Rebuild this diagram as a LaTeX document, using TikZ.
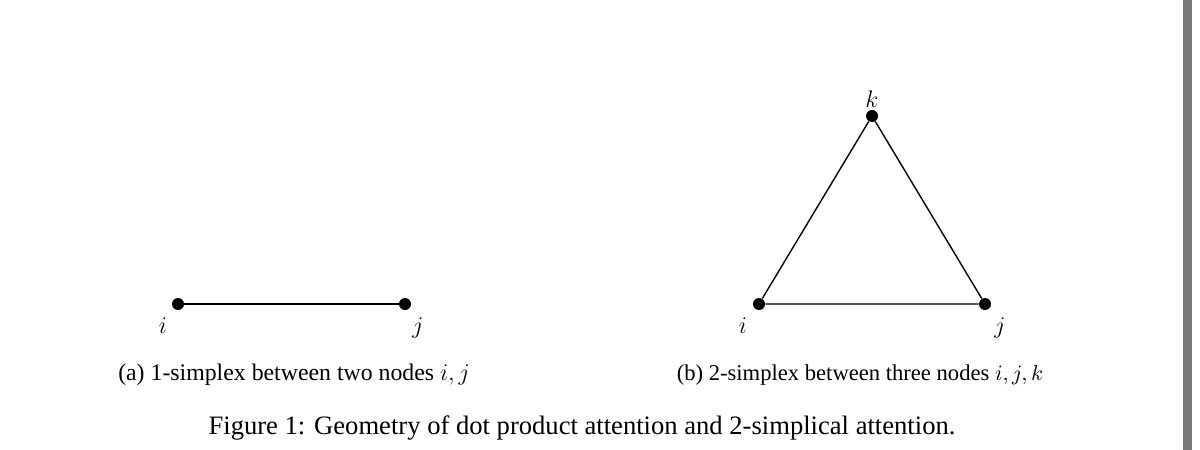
\documentclass[tikz,border=0pt]{standalone}
\usepackage{fontspec}
\setmainfont{Liberation Serif}
\begin{document}
\begin{tikzpicture}[x=0.5pt,y=-0.5pt,
  dot/.style={circle,fill=black,inner sep=0pt,minimum size=6pt},
  lbl/.style={inner sep=0pt,font=\fontsize{13}{15}\selectfont},
  subcap/.style={inner sep=0pt,font=\fontsize{11.9}{14}\selectfont},
  figcap/.style={inner sep=0pt,font=\fontsize{13.3}{16}\selectfont},
  edgeA/.style={line width=1pt},
  edgeB/.style={line width=0.7pt}]
\useasboundingbox (0,0) rectangle (1200,450);
\fill[white] (0,0) rectangle (1200,450);
\fill[gray!95!black] (1183,0) rectangle (1192,450);
% (a)
\node[dot] (ai) at (178,304) {};
\node[dot] (aj) at (405,304) {};
\draw[edgeA] (ai) -- (aj);
\node[lbl] (lai) at (163,326) {$i$};
\node[lbl] (laj) at (418,328) {$j$};
\node[subcap] (capa) at (294,375) {(a) 1-simplex between two nodes $i, j$};
% (b)
\node[dot] (bi) at (759,304) {};
\node[dot] (bj) at (985,304) {};
\node[dot] (bk) at (872,116) {};
\draw[edgeB] (bi) -- (bj) -- (bk) -- (bi);
\node[lbl] (lbi) at (743,326) {$i$};
\node[lbl] (lbj) at (1000,328) {$j$};
\node[lbl] (lbk) at (872,99) {$k$};
\node[subcap,font=\fontsize{11.3}{14}\selectfont] (capb) at (860,375) {(b) 2-simplex between three nodes $i, j, k$};
% caption
\node[figcap] (cap) at (582,428) {Figure 1: Geometry of dot product attention and 2-simplical attention.};
\end{tikzpicture}
\end{document}
